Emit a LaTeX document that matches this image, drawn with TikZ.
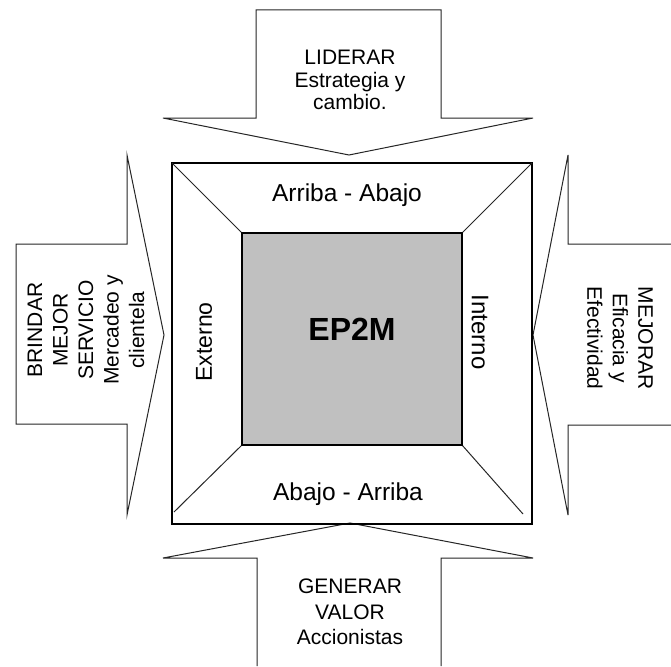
\documentclass[tikz,border=0pt]{standalone}
\usepackage{fontspec}
\setmainfont{Liberation Sans}
\begin{document}
\begin{tikzpicture}[x=1pt,y=-1pt,
  arrowshape/.style={draw=black!85,line width=1pt,line join=miter,fill=white},
  frame/.style={draw=black,line width=1.2pt},
  diag/.style={draw=black!85,line width=1pt},
  label/.style={align=center,inner sep=0pt,font=\fontsize{21}{22.5}\selectfont},
  sidelabel/.style={align=center,inner sep=0pt,font=\fontsize{21}{25.5}\selectfont},
  ring/.style={inner sep=0pt,font=\fontsize{24.5}{26}\selectfont}]
\useasboundingbox (0,0) rectangle (671,666);

% block arrows pointing at the square
\draw[arrowshape] (256,10) -- (441,10) -- (441,118) -- (533,118) -- (349,155)
  -- (163,118) -- (256,118) -- cycle;
\draw[arrowshape] (257,666) -- (257,558) -- (163,558) -- (350,523) -- (533,558)
  -- (441,558) -- (441,666);
\draw[arrowshape] (16,244) -- (127,244) -- (127,155) -- (164,335) -- (127,515)
  -- (127,424) -- (16,424) -- cycle;
\draw[arrowshape] (671,244) -- (568,244) -- (568,155) -- (533,335) -- (568,515)
  -- (568,425) -- (671,425);

% outer frame and inner core
\coordinate (otl) at (172,163);
\coordinate (otr) at (532,163);
\coordinate (obr) at (532,524);
\coordinate (obl) at (172,524);
\coordinate (itl) at (242,233);
\coordinate (itr) at (462,233);
\coordinate (ibr) at (462,445);
\coordinate (ibl) at (242,445);
\coordinate (ebl) at (174,512);
\coordinate (ebr) at (523,514);

\draw[frame] (otl) rectangle (obr);
\draw[diag] (otl) -- (itl);
\draw[diag] (otr) -- (itr);
\draw[diag] (ibl) -- (ebl);
\draw[diag] (ibr) -- (ebr);
\draw[frame,fill={rgb,255:red,192;green,192;blue,192}] (itl) rectangle (ibr);

% texts
\node[inner sep=0pt,font=\fontsize{32}{34}\selectfont\bfseries] (core) at (352,329) {EP2M};
\node[ring] (top) at (347,195) {Arriba - Abajo};
\node[ring] (bottom) at (348,494) {Abajo - Arriba};
\node[ring,rotate=90,font=\fontsize{23}{25}\selectfont] (ext) at (204,342) {Externo};
\node[ring,rotate=-90,font=\fontsize{24}{26}\selectfont] (int) at (480,332) {Interno};

\node[label] (lead) at (350,80) {LIDERAR\\Estrategia y\\cambio.};
\node[sidelabel] (value) at (350,612) {GENERAR\\VALOR\\Accionistas};
\node[sidelabel,rotate=90] (serve) at (86,330) {BRINDAR\\MEJOR\\SERVICIO\\Mercadeo y\\clientela};
\node[sidelabel,rotate=-90] (improve) at (620,338) {MEJORAR\\Eficacia y\\Efectividad};
\end{tikzpicture}
\end{document}
